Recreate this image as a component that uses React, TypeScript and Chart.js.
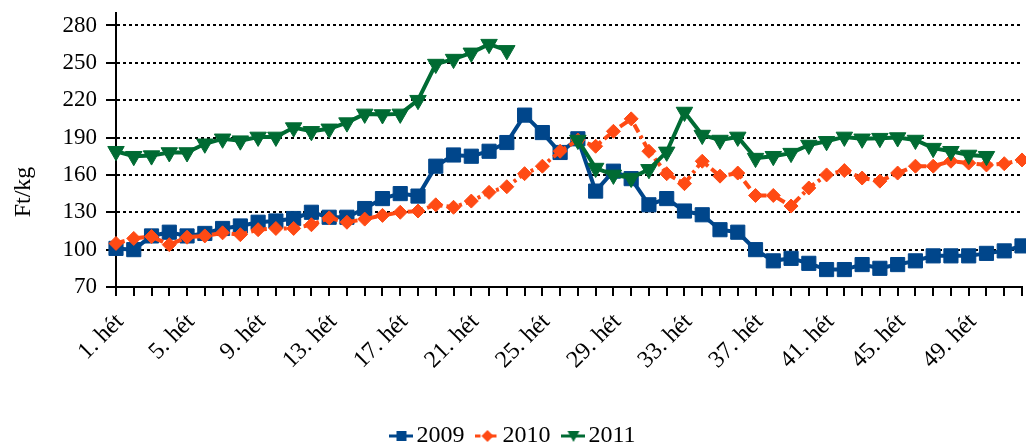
import React, { useEffect, useRef } from "react";
import { Chart, registerables } from "chart.js";

Chart.register(...registerables);

const weeks = [
  "1. hét", "2. hét", "3. hét", "4. hét", "5. hét", "6. hét", "7. hét", "8. hét", "9. hét", "10. hét",
  "11. hét", "12. hét", "13. hét", "14. hét", "15. hét", "16. hét", "17. hét", "18. hét", "19. hét", "20. hét",
  "21. hét", "22. hét", "23. hét", "24. hét", "25. hét", "26. hét", "27. hét", "28. hét", "29. hét", "30. hét",
  "31. hét", "32. hét", "33. hét", "34. hét", "35. hét", "36. hét", "37. hét", "38. hét", "39. hét", "40. hét",
  "41. hét", "42. hét", "43. hét", "44. hét", "45. hét", "46. hét", "47. hét", "48. hét", "49. hét", "50. hét",
  "51. hét", "52. hét",
];

const series2009 = [
  101, 100, 111, 114, 111, 113, 117, 119, 122, 123,
  125, 130, 126, 126, 133, 141, 145, 143, 167, 176,
  175, 179, 186, 208, 194, 178, 189, 147, 163, 157,
  136, 141, 131, 128, 116, 114, 100, 91, 93, 89,
  84, 84, 88, 85, 88, 91, 95, 95, 95, 97,
  99, 103,
];

const series2010 = [
  105, 109, 110.5, 104, 110, 111, 113.5, 112, 116, 117,
  117, 120, 125.5, 122, 124.5, 127.5, 130, 131, 136, 134,
  139, 146, 150.5, 161, 167, 179, 188, 183, 195, 205,
  179, 161, 153, 171, 159, 161.5, 143.5, 143.5, 135, 149.5,
  160, 163.5, 157.5, 155, 161.5, 167, 167, 171, 169.5, 168,
  169, 172,
];

const series2011 = [
  179, 175, 175.5, 178, 178, 185, 189, 187.5, 190.5, 190.5,
  198, 195, 197, 202, 209, 208.5, 209, 220, 249, 253,
  258, 265, 260, null, null, null, 188, 165.5, 160, 157.5,
  164.5, 178.5, 210.5, 192, 188, 190.5, 173.5, 175, 177.5, 184,
  187, 190.5, 189, 189.5, 190, 188, 181.5, 179, 176, 175,
  null, null,
];

const seriesNames = ["2009", "2010", "2011"];
const yTickValues = [70, 100, 130, 160, 190, 220, 250, 280];
const yAxisTitle = "Ft/kg";

const FONT = '"Liberation Serif", "DejaVu Serif", serif';
const BLUE = "#00468B";
const ORANGE = "#FF4A14";
const GREEN = "#006B33";

function makeIcon(color: string, dash: number[], marker: string): HTMLCanvasElement {
  const c = document.createElement("canvas");
  c.width = 24;
  c.height = 18;
  const ctx = c.getContext("2d")!;
  ctx.strokeStyle = color;
  ctx.lineWidth = 3;
  ctx.setLineDash(dash);
  ctx.beginPath();
  ctx.moveTo(0, 9);
  ctx.lineTo(24, 9);
  ctx.stroke();
  ctx.setLineDash([]);
  ctx.fillStyle = color;
  ctx.beginPath();
  if (marker === "rect") {
    ctx.rect(7, 4, 10, 10);
  } else if (marker === "rectRot") {
    ctx.moveTo(12, 3);
    ctx.lineTo(18, 9);
    ctx.lineTo(12, 15);
    ctx.lineTo(6, 9);
    ctx.closePath();
  } else {
    ctx.moveTo(6, 4);
    ctx.lineTo(18, 4);
    ctx.lineTo(12, 15);
    ctx.closePath();
  }
  ctx.fill();
  return c;
}

const yTitlePlugin = {
  id: "yTitlePlugin",
  afterDraw(chart: any) {
    const ctx = chart.ctx;
    ctx.save();
    ctx.translate(24, 192);
    ctx.rotate(-Math.PI / 2);
    ctx.font = `24px ${FONT}`;
    ctx.textAlign = "center";
    ctx.textBaseline = "middle";
    ctx.fillStyle = "#000";
    ctx.fillText(yAxisTitle, 0, 0);
    ctx.restore();
  },
};

export default function App() {
  const canvasRef = useRef<HTMLCanvasElement | null>(null);

  useEffect(() => {
    if (!canvasRef.current) return;
    const icons = [
      makeIcon(BLUE, [], "rect"),
      makeIcon(ORANGE, [5, 3], "rectRot"),
      makeIcon(GREEN, [], "triangle"),
    ];
    const chart = new Chart(canvasRef.current, {
      type: "line",
      data: {
        labels: weeks,
        datasets: [
          {
            label: seriesNames[0],
            data: series2009,
            borderColor: BLUE,
            backgroundColor: BLUE,
            borderWidth: 4,
            pointStyle: "rect",
            pointRadius: 10,
            pointBorderWidth: 1,
            pointBorderColor: BLUE,
            pointBackgroundColor: BLUE,
            tension: 0,
            clip: false,
            order: 3,
          },
          {
            label: seriesNames[1],
            data: series2010,
            borderColor: ORANGE,
            backgroundColor: ORANGE,
            borderWidth: 4,
            borderDash: [9, 4, 3, 4],
            pointStyle: "rectRot",
            pointRadius: 7,
            pointBorderWidth: 1,
            pointBorderColor: ORANGE,
            pointBackgroundColor: ORANGE,
            tension: 0,
            clip: false,
            order: 2,
          },
          {
            label: seriesNames[2],
            data: series2011,
            borderColor: GREEN,
            backgroundColor: GREEN,
            borderWidth: 4,
            pointStyle: "triangle",
            pointRotation: 180,
            pointRadius: 9.5,
            pointBorderWidth: 1,
            pointBorderColor: GREEN,
            pointBackgroundColor: GREEN,
            tension: 0,
            spanGaps: false,
            clip: false,
            order: 1,
          },
        ],
      },
      options: {
        animation: false,
        responsive: true,
        maintainAspectRatio: false,
        layout: { autoPadding: false, padding: { left: 12, right: 4, top: 13, bottom: -11 } },
        plugins: {
          title: { display: false },
          tooltip: { enabled: false },
          legend: {
            display: true,
            position: "bottom",
            labels: {
              usePointStyle: true,
              pointStyleWidth: 6,
              padding: 20,
              color: "#000",
              font: { family: FONT, size: 24 },
              generateLabels: () =>
                seriesNames.map((name, i) => ({
                  text: name,
                  pointStyle: icons[i] as any,
                  fillStyle: "transparent",
                  strokeStyle: "transparent",
                  lineWidth: 0,
                  hidden: false,
                  datasetIndex: i,
                  fontColor: "#000",
                })),
            },
          },
        },
        scales: {
          x: {
            type: "category",
            offset: false,
            afterFit: (scale: any) => {
              scale.height = 117;
              scale.paddingRight = 0;
              scale.paddingLeft = 0;
            },
            grid: {
              display: true,
              drawOnChartArea: false,
              drawTicks: true,
              tickLength: 9,
              color: "#000",
              tickColor: "#000",
              lineWidth: 2,
              tickWidth: 2,
            },
            border: { display: true, color: "#000", width: 2 },
            ticks: {
              autoSkip: false,
              minRotation: 45,
              maxRotation: 45,
              padding: 12,
              labelOffset: 4,
              color: "#000",
              font: { family: FONT, size: 24 },
              callback: (_v: any, idx: number) => (idx % 4 === 0 ? weeks[idx] : ""),
            },
          },
          y: {
            type: "linear",
            min: 70,
            max: 290,
            afterFit: (scale: any) => {
              scale.width = 104;
              scale.paddingTop = 0;
              scale.paddingBottom = 0;
            },
            afterBuildTicks: (scale: any) => {
              scale.ticks = yTickValues.map((v) => ({ value: v }));
            },
            grid: {
              display: true,
              drawOnChartArea: true,
              drawTicks: true,
              tickLength: 10,
              color: "#000",
              tickColor: "#000",
              lineWidth: 2,
              tickWidth: 2,
              tickBorderDash: [],
            },
            border: { display: true, color: "#000", width: 2, dash: [3, 3] },
            ticks: {
              padding: 9,
              color: "#000",
              font: { family: FONT, size: 23 },
            },
          },
        },
      },
      plugins: [yTitlePlugin],
    });
    return () => chart.destroy();
  }, []);

  return (
    <div style={{ position: "absolute", left: 0, top: 0, width: 1026, height: 447 }}>
      <canvas ref={canvasRef} />
    </div>
  );
}
